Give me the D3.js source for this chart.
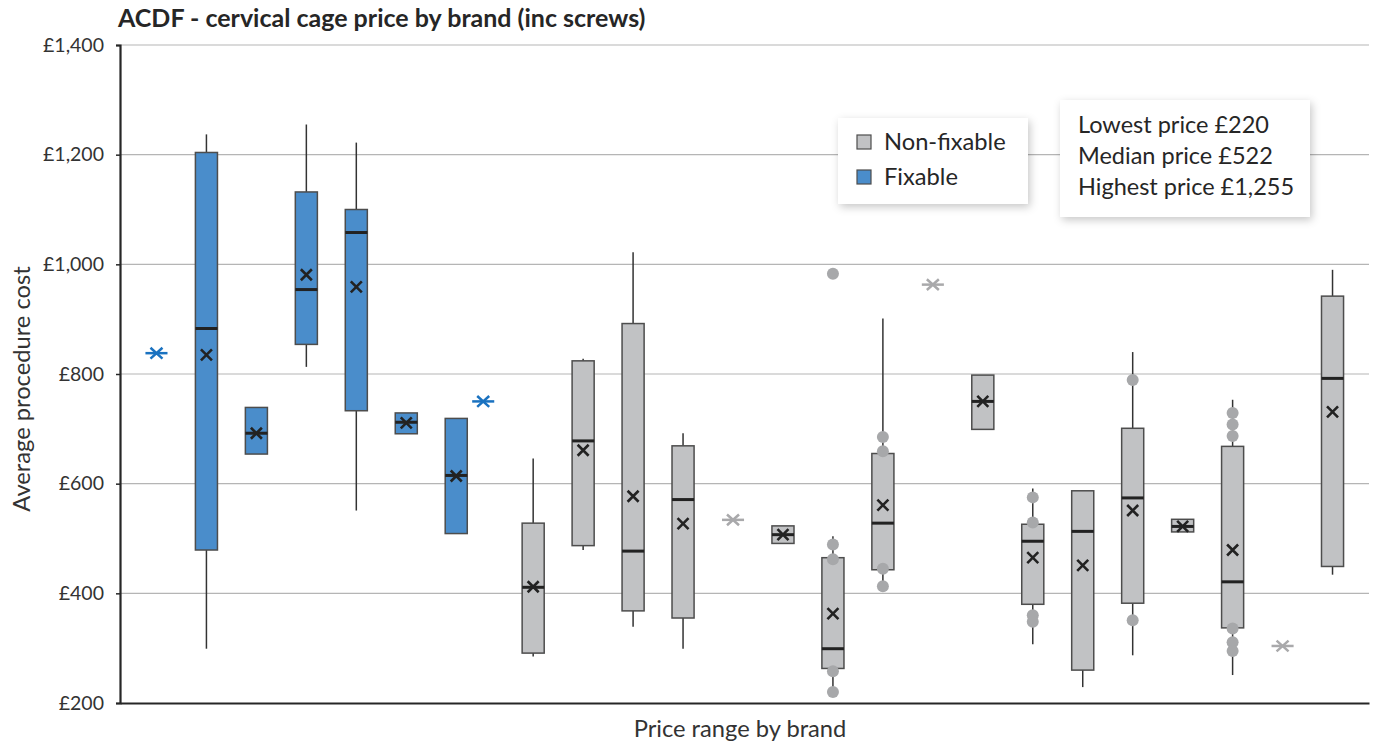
<!DOCTYPE html>
<html>
<head>
<meta charset="utf-8">
<script src="https://cdn.jsdelivr.net/npm/d3@7"></script>
<style>
  html, body { margin: 0; padding: 0; background: #ffffff; }
  svg { display: block; font-family: Lato, "Open Sans", sans-serif; }
</style>
</head>
<body>
<svg id="chart" width="1378" height="747"></svg>
<script>
// ---------------- DATA ----------------
const title = "ACDF - cervical cage price by brand (inc screws)";
const yAxisTitle = "Average procedure cost";
const xAxisTitle = "Price range by brand";
const yTicks = [200, 400, 600, 800, 1000, 1200, 1400];
const legendLabels = ["Non-fixable", "Fixable"];
const summaryLines = ["Lowest price £220", "Median price £522", "Highest price £1,255"];

// 25 brands (unlabelled on the category axis)
const categories = d3.range(1, 26).map(i => "Brand " + i);
// series slot inside each brand (Excel box & whisker: 2 series side by side)
const itemSeries = ["Fixable","Fixable","Fixable","Fixable","Fixable","Fixable","Fixable",
  "Non-fixable","Non-fixable","Non-fixable","Non-fixable","Non-fixable","Non-fixable","Non-fixable",
  "Non-fixable","Non-fixable","Non-fixable","Non-fixable","Non-fixable","Non-fixable","Non-fixable",
  "Non-fixable","Non-fixable","Non-fixable","Non-fixable"];
// colour type of each brand
const itemType = ["Fixable","Fixable","Fixable","Fixable","Fixable","Fixable","Fixable","Fixable",
  "Non-fixable","Non-fixable","Non-fixable","Non-fixable","Non-fixable","Non-fixable","Non-fixable",
  "Non-fixable","Non-fixable","Non-fixable","Non-fixable","Non-fixable","Non-fixable","Non-fixable",
  "Non-fixable","Non-fixable","Non-fixable"];
const whiskerLow  = [838, 299, 654, 813, 551, 691, 509, 750, 285, 479, 339, 299, 534, 491, 220, 413, 963, 699, 307, 229, 287, 512, 251, 304, 434];
const quartile1   = [838, 479, 654, 854, 733, 691, 509, 750, 291, 487, 368, 355, 534, 491, 263, 443, 963, 699, 380, 260, 382, 512, 337, 304, 449];
const medians     = [838, 883, 692, 954, 1058, 712, 615, 750, 411, 678, 477, 571, 534, 507, 299, 528, 963, 750, 495, 513, 574, 522, 421, 304, 792];
const quartile3   = [838, 1204, 739, 1132, 1100, 729, 719, 750, 528, 824, 892, 669, 534, 523, 465, 655, 963, 798, 526, 587, 701, 535, 668, 304, 942];
const whiskerHigh = [838, 1237, 739, 1255, 1222, 729, 719, 750, 646, 828, 1022, 692, 534, 523, 504, 901, 963, 798, 591, 587, 840, 535, 753, 304, 990];
const means       = [838, 835, 692, 981, 959, 711, 614, 750, 412, 661, 577, 527, 534, 507, 363, 561, 963, 750, 465, 451, 551, 522, 479, 304, 731];
const shownPoints = [[], [], [], [], [], [], [], [], [], [], [], [], [], [],
  [983, 489, 462, 258, 220],
  [685, 659, 445, 413],
  [], [],
  [575, 529, 360, 348],
  [],
  [789, 351],
  [],
  [729, 708, 687, 336, 311, 295],
  [], []];

// ---------------- STYLE ----------------
const fillColor = { "Fixable": "#4a8dcb", "Non-fixable": "#c1c2c4" };
const singleColor = { "Fixable": "#1a72c0", "Non-fixable": "#a9a9ab" };
const boxStroke = "#4d4d4d";
const dotColor = "#a7a8aa";

const svg = d3.select("#chart");
const plot = { left: 120, right: 1369, top: 45, bottom: 703 };

const defs = svg.append("defs");
const f = defs.append("filter").attr("id", "shadow").attr("x", "-20%").attr("y", "-20%").attr("width", "140%").attr("height", "150%");
f.append("feDropShadow").attr("dx", 2).attr("dy", 3).attr("stdDeviation", 4).attr("flood-color", "#000").attr("flood-opacity", 0.22);

const y = d3.scaleLinear().domain([200, 1400]).range([plot.bottom, plot.top]);
const x = d3.scaleBand().domain(categories).range([plot.left, plot.right]).paddingInner(0).paddingOuter(0);
const sub = d3.scaleBand().domain(["Non-fixable", "Fixable"]).range([0, x.bandwidth()]).paddingInner(0).paddingOuter(0.087);
const boxW = sub.bandwidth() * 0.96;

// gridlines
svg.append("g").selectAll("line").data(yTicks.filter(t => t > 200)).join("line")
  .attr("x1", plot.left).attr("x2", plot.right)
  .attr("y1", d => y(d)).attr("y2", d => y(d))
  .attr("stroke", "#b5b5b5").attr("stroke-width", 1.2);

// y axis
const yAxis = svg.append("g").attr("transform", `translate(${plot.left},0)`)
  .call(d3.axisLeft(y).tickValues(yTicks).tickSize(4).tickPadding(12).tickFormat(d => "£" + d3.format(",")(d)));
yAxis.select(".domain").attr("stroke", "#262626").attr("stroke-width", 2.2);
yAxis.selectAll(".tick line").attr("stroke", "#262626").attr("stroke-width", 1.5);
yAxis.selectAll(".tick text").attr("font-size", 19.5).attr("fill", "#333").attr("font-family", "Lato");

// x axis (no labels)
const xAxis = svg.append("g").attr("transform", `translate(0,${plot.bottom})`)
  .call(d3.axisBottom(x).tickSize(0).tickFormat(""));
xAxis.select(".domain").attr("stroke", "#262626").attr("stroke-width", 2.2);

// items
const items = categories.map((c, i) => ({
  cat: c, series: itemSeries[i], type: itemType[i],
  lo: whiskerLow[i], q1: quartile1[i], med: medians[i], q3: quartile3[i], hi: whiskerHigh[i],
  mean: means[i], pts: shownPoints[i]
}));
const cx = d => x(d.cat) + sub(d.series) + sub.bandwidth() / 2;

const g = svg.append("g");
items.forEach(d => {
  const c = cx(d);
  const grp = g.append("g");
  if (d.q1 === d.q3) {
    // single value: flat box with marker in series colour
    const col = singleColor[d.type];
    grp.append("line").attr("x1", c - boxW / 2).attr("x2", c + boxW / 2)
      .attr("y1", y(d.med)).attr("y2", y(d.med)).attr("stroke", col).attr("stroke-width", 2.5);
    const s = 6;
    grp.append("path").attr("d", `M${c - s},${y(d.mean) - s * 0.9}L${c + s},${y(d.mean) + s * 0.9}M${c - s},${y(d.mean) + s * 0.9}L${c + s},${y(d.mean) - s * 0.9}`)
      .attr("stroke", col).attr("stroke-width", 2.5).attr("fill", "none");
    return;
  }
  // whiskers
  grp.append("line").attr("x1", c).attr("x2", c).attr("y1", y(d.hi)).attr("y2", y(d.q3))
    .attr("stroke", "#333").attr("stroke-width", 1.5);
  grp.append("line").attr("x1", c).attr("x2", c).attr("y1", y(d.q1)).attr("y2", y(d.lo))
    .attr("stroke", "#333").attr("stroke-width", 1.5);
  // box
  grp.append("rect").attr("x", c - boxW / 2).attr("width", boxW)
    .attr("y", y(d.q3)).attr("height", y(d.q1) - y(d.q3))
    .attr("fill", fillColor[d.type]).attr("stroke", boxStroke).attr("stroke-width", 1.5);
  // points
  grp.selectAll("circle").data(d.pts).join("circle")
    .attr("cx", c).attr("cy", v => y(v)).attr("r", 6).attr("fill", dotColor);
  // median
  grp.append("line").attr("x1", c - boxW / 2).attr("x2", c + boxW / 2)
    .attr("y1", y(d.med)).attr("y2", y(d.med)).attr("stroke", "#222").attr("stroke-width", 3);
  // mean
  const s = 5.5;
  grp.append("path").attr("d", `M${c - s},${y(d.mean) - s}L${c + s},${y(d.mean) + s}M${c - s},${y(d.mean) + s}L${c + s},${y(d.mean) - s}`)
    .attr("stroke", "#222").attr("stroke-width", 2.6).attr("fill", "none");
});

// title
svg.append("text").attr("x", 118).attr("y", 27).text(title)
  .attr("font-size", 25).attr("font-weight", 700).attr("fill", "#262626").attr("font-family", "Lato");

// axis titles
svg.append("text").attr("transform", `translate(30,${389}) rotate(-90)`).attr("text-anchor", "middle")
  .text(yAxisTitle).attr("font-size", 23.7).attr("fill", "#333").attr("font-family", "Lato");
svg.append("text").attr("x", 740).attr("y", 737).attr("text-anchor", "middle")
  .text(xAxisTitle).attr("font-size", 23.7).attr("fill", "#333").attr("font-family", "Lato");

// legend
const lg = svg.append("g");
lg.append("rect").attr("x", 838).attr("y", 118).attr("width", 190).attr("height", 86)
  .attr("fill", "#fff").attr("filter", "url(#shadow)");
legendLabels.forEach((lab, i) => {
  const yy = 142 + i * 35;
  lg.append("rect").attr("x", 857).attr("y", yy - 7).attr("width", 14).attr("height", 14)
    .attr("fill", fillColor[lab]).attr("stroke", boxStroke).attr("stroke-width", 1.2);
  lg.append("text").attr("x", 884).attr("y", yy + 8).text(lab)
    .attr("font-size", 23.7).attr("fill", "#262626").attr("font-family", "Lato");
});

// summary box
const sg = svg.append("g");
sg.append("rect").attr("x", 1060).attr("y", 100).attr("width", 250).attr("height", 117)
  .attr("fill", "#fff").attr("filter", "url(#shadow)");
summaryLines.forEach((t, i) => {
  sg.append("text").attr("x", 1078).attr("y", 133 + i * 31).text(t)
    .attr("font-size", 23.5).attr("fill", "#262626").attr("font-family", "Lato");
});
</script>
</body>
</html>
